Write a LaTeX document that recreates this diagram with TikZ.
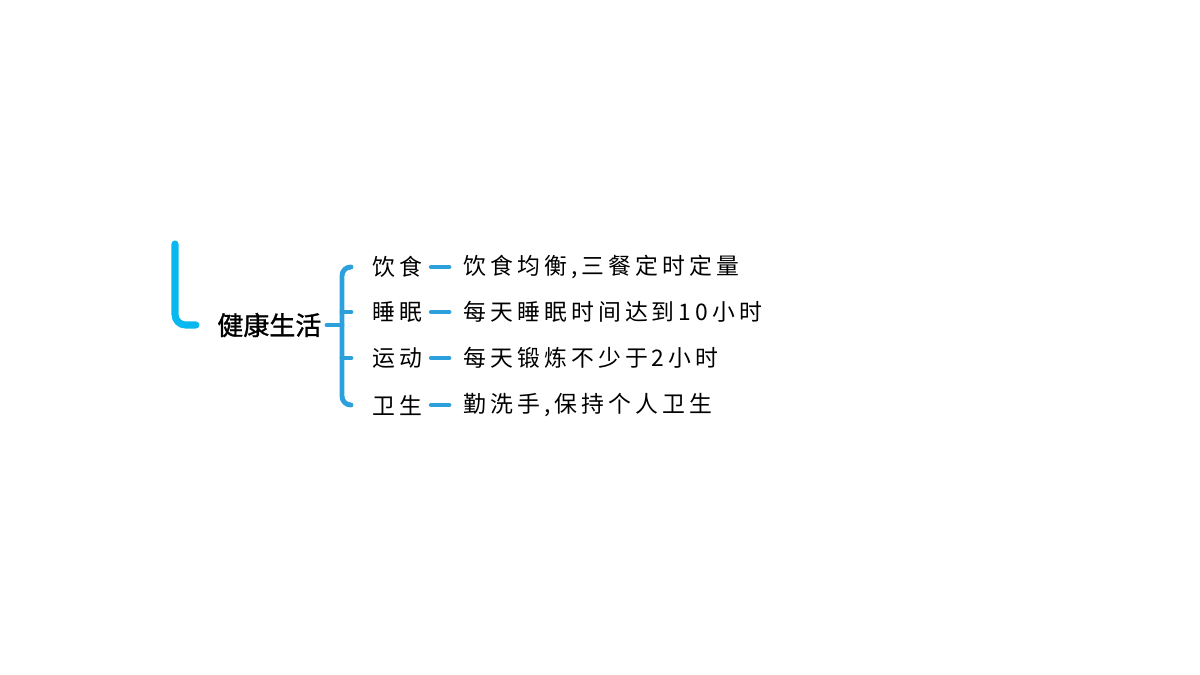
\documentclass[tikz,border=0pt]{standalone}
\usepackage{fontspec}
\usepackage{tikz}
\newfontfamily\cjkmain[FakeBold=1.2]{Noto Sans CJK SC}
\newfontfamily\cjkitem[LetterSpace=18]{Noto Sans CJK SC}
\definecolor{cyanbar}{RGB}{10,184,240}
\definecolor{bluebar}{RGB}{44,160,220}

\begin{document}
\begin{tikzpicture}[x=0.02cm,y=-0.02cm,
    root/.style={inner sep=0pt, anchor=west, font=\cjkmain\fontsize{14.8}{17}\selectfont},
    item/.style={inner sep=0pt, anchor=west, font=\cjkitem\fontsize{13}{15}\selectfont},
    brace/.style={bluebar, line width=2.8pt, line cap=round, rounded corners=5},
    link/.style={bluebar, line width=2.8pt, line cap=round}]
	    \useasboundingbox (0,0) rectangle (1200,675);
	    % root and items
	    \node[root] (health) at (217,325) {健康生活};
	    \node[item] (diet) at (372,267) {饮食};
	    \node[item] (sleep) at (372,312) {睡眠};
	    \node[item] (sport) at (372,358) {运动};
	    \node[item] (clean) at (372,405) {卫生};
	    \node[item] (dietd) at (463,267) {饮食均衡,三餐定时定量};
	    \node[item] (sleepd) at (463,312) {每天睡眠时间达到10小时};
	    \node[item] (sportd) at (463,358) {每天锻炼不少于2小时};
	    \node[item] (cleand) at (463,405) {勤洗手,保持个人卫生};
	    % left bar
	    \coordinate (top) at (175,244);
	    \draw[cyanbar, line width=4pt, line cap=round, rounded corners=6, shorten >=12] (top) |- (health.west);
	    % brace
	    \coordinate (fork) at (342,325);
	    \draw[link, shorten <=3] (health.east) -- (fork);
	    \draw[brace, shorten <=12, shorten >=12] (diet.west) -| (fork) |- (clean.west);
	    \draw[link, shorten >=12] (fork |- sleep.west) -- (sleep.west);
	    \draw[link, shorten >=12] (fork |- sport.west) -- (sport.west);
	    % dashes
	    \draw[link, shorten <=5, shorten >=8] (diet.east) -- (dietd.west);
	    \draw[link, shorten <=5, shorten >=8] (sleep.east) -- (sleepd.west);
	    \draw[link, shorten <=5, shorten >=8] (sport.east) -- (sportd.west);
	    \draw[link, shorten <=5, shorten >=8] (clean.east) -- (cleand.west);
	  \end{tikzpicture}
\end{document}
